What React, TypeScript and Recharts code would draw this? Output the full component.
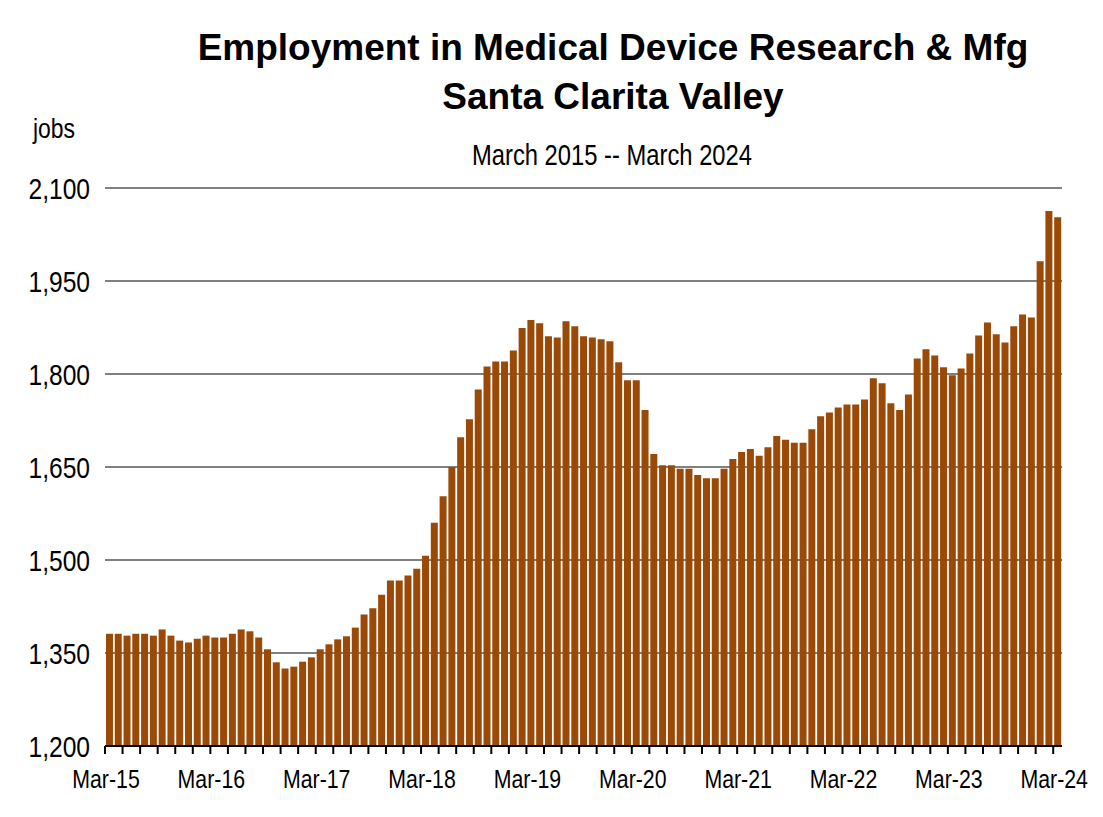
import { BarChart, Bar, XAxis, YAxis, CartesianGrid } from 'recharts';

const monthNames = ['Jan', 'Feb', 'Mar', 'Apr', 'May', 'Jun', 'Jul', 'Aug', 'Sep', 'Oct', 'Nov', 'Dec'];

// Mar-15 .. Mar-24, monthly
const months: string[] = [];
for (let y = 2015; y <= 2024; y++) {
  for (let m = 0; m < 12; m++) {
    if (y === 2015 && m < 2) continue;
    if (y === 2024 && m > 2) continue;
    months.push(`${monthNames[m]}-${String(y).slice(2)}`);
  }
}

const jobs = [
  1381, 1381, 1378, 1381, 1381, 1378, 1388, 1378, 1370, 1367, 1373, 1378,
  1375, 1375, 1381, 1388, 1385, 1375, 1356, 1335, 1325, 1328, 1336, 1343,
  1356, 1364, 1372, 1377, 1391, 1412, 1422, 1444, 1467, 1467, 1475, 1486,
  1507, 1560, 1603, 1650, 1698, 1727, 1775, 1812, 1820, 1820, 1838, 1874,
  1887, 1882, 1861, 1859, 1885, 1877, 1861, 1859, 1856, 1853, 1819, 1790,
  1790, 1742, 1671, 1653, 1653, 1647, 1647, 1637, 1632, 1632, 1647, 1663,
  1674, 1679, 1668, 1682, 1700, 1694, 1689, 1689, 1711, 1732, 1738, 1746,
  1751, 1751, 1759, 1793, 1785, 1753, 1742, 1767, 1825, 1840, 1830, 1811,
  1798, 1809, 1833, 1862, 1883, 1864, 1851, 1877, 1896, 1891, 1982, 2063,
  2053,
];

const yTicks = [1200, 1350, 1500, 1650, 1800, 1950, 2100];
const xLabels = ['Mar-15', 'Mar-16', 'Mar-17', 'Mar-18', 'Mar-19', 'Mar-20', 'Mar-21', 'Mar-22', 'Mar-23', 'Mar-24'];

const data = months.map((m, i) => ({ m, jobs: jobs[i] }));

const W = 1095;
const H = 809;
const plotLeft = 97;
const plotRight = 1054;
const plotBottom = 738;
const band = (plotRight - plotLeft) / months.length;

const arial = '"Liberation Sans", Arial, sans-serif';

// no narrow font installed, so squeeze Liberation Sans horizontally
function NText({ x, y, size, anchor = 'middle', dy, children }: any) {
  return (
    <text
      transform={`translate(${x},${y}) scale(0.82,1)`}
      dy={dy}
      textAnchor={anchor}
      fontFamily={arial}
      fontSize={size}
      fill="#000"
    >
      {children}
    </text>
  );
}

function XTick(props: any) {
  const { x, payload } = props;
  const i = payload.index ?? props.index;
  const edge = x - band / 2;
  return (
    <g>
      {i % 2 === 0 && (
        <line x1={edge} x2={edge} y1={plotBottom} y2={plotBottom + 8} stroke="#000" strokeWidth={2} />
      )}
      {xLabels.includes(payload.value) && (
        <NText x={edge + 1} y={780} size={26}>
          {payload.value}
        </NText>
      )}
    </g>
  );
}

function YTick(props: any) {
  const { y, payload } = props;
  return (
    <NText x={82} y={y} dy="0.36em" size={30} anchor="end">
      {payload.value.toLocaleString('en-US')}
    </NText>
  );
}

export default function App() {
  return (
    <BarChart
      width={W}
      height={H}
      data={data}
      margin={{ top: 180, right: W - plotRight, left: 0, bottom: 0 }}
      barCategoryGap="11%"
    >
      <CartesianGrid vertical={false} stroke="#808080" strokeWidth={2} />
      <XAxis
        dataKey="m"
        interval={0}
        tickLine={false}
        axisLine={{ stroke: '#000', strokeWidth: 2 }}
        height={H - plotBottom}
        tick={<XTick />}
      />
      <YAxis
        domain={[1200, 2100]}
        ticks={yTicks}
        axisLine={false}
        tickLine={false}
        width={plotLeft}
        tick={<YTick />}
      />
      <Bar dataKey="jobs" fill="#9A4A06" isAnimationActive={false} />
      <text x={605} y={52} textAnchor="middle" fontFamily={arial} fontWeight="bold" fontSize={37} fill="#000">
        Employment in Medical Device Research &amp; Mfg
      </text>
      <text x={605} y={101} textAnchor="middle" fontFamily={arial} fontWeight="bold" fontSize={37} fill="#000">
        Santa Clarita Valley
      </text>
      <NText x={604} y={157} size={29}>
        March 2015 -- March 2024
      </NText>
      <NText x={67} y={130} size={28} anchor="end">
        jobs
      </NText>
    </BarChart>
  );
}
